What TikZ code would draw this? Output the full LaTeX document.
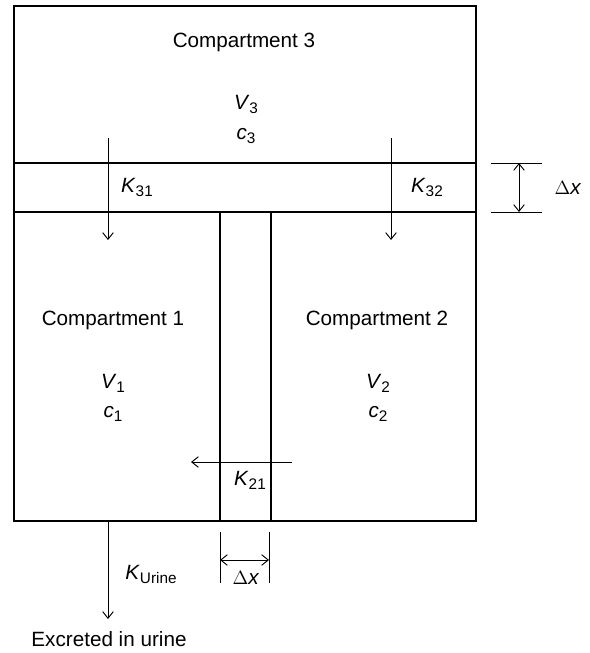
\documentclass[tikz,border=0pt]{standalone}
\usepackage{fontspec}
\setmainfont{Liberation Sans}
\usetikzlibrary{arrows.meta}
\newcommand\vsub[2]{\textit{#1}\raisebox{-3pt}{\fontsize{11.5}{12}\selectfont #2}}
\begin{document}
\begin{tikzpicture}[x=0.75pt,y=-0.75pt, line width=0.95pt,
  lbl/.style={font=\fontsize{15.5}{18}\selectfont, inner sep=0pt},
  arr/.style={-{Straight Barb[length=5pt,width=8pt]}, line width=0.7pt},
  dim/.style={{Straight Barb[length=5pt,width=8pt]}-{Straight Barb[length=5pt,width=8pt]}, line width=0.7pt},
  thin/.style={line width=0.7pt}]
\useasboundingbox (0,0) rectangle (589,653);
% outer box and partitions
\coordinate (tl) at (14,6);
\coordinate (br) at (476,521);
\draw (tl) rectangle (br);
\coordinate (b1l) at (14,163); \coordinate (b1r) at (476,163);
\coordinate (b2l) at (14,212); \coordinate (b2r) at (476,212);
\draw (b1l) -- (b1r);
\draw (b2l) -- (b2r);
\coordinate (ch1t) at (220,212); \coordinate (ch1b) at (220,521);
\coordinate (ch2t) at (271,212); \coordinate (ch2b) at (271,521);
\draw (ch1t) -- (ch1b);
\draw (ch2t) -- (ch2b);
% flux arrows
\coordinate (k31s) at (108,138); \coordinate (k31e) at (108,240);
\coordinate (k32s) at (391,138); \coordinate (k32e) at (391,240);
\coordinate (k21s) at (292,462); \coordinate (k21e) at (191,462);
\coordinate (kus) at (108,521); \coordinate (kue) at (108,619);
\draw[arr] (k31s) -- (k31e);
\draw[arr] (k32s) -- (k32e);
\draw[arr] (k21s) -- (k21e);
\draw[arr] (kus) -- (kue);
% right dimension
\coordinate (d1a) at (491,163); \coordinate (d1b) at (542,163);
\coordinate (d2a) at (491,212); \coordinate (d2b) at (542,212);
\draw[thin] (d1a) -- (d1b);
\draw[thin] (d2a) -- (d2b);
\coordinate (da) at (519,163); \coordinate (db) at (519,212);
\draw[dim] (da) -- (db);
% bottom dimension
\coordinate (e1a) at (220,532); \coordinate (e1b) at (220,583);
\coordinate (e2a) at (269,532); \coordinate (e2b) at (269,583);
\draw[thin] (e1a) -- (e1b);
\draw[thin] (e2a) -- (e2b);
\coordinate (ea) at (220,560); \coordinate (eb) at (269,560);
\draw[dim] (ea) -- (eb);
% labels
\node[lbl] (c3t) at (244,42) {Compartment 3};
\node[lbl] (v3) at (246,104) {\vsub{V}{3}};
\node[lbl] (cc3) at (246,136) {\vsub{c}{3}};
\node[lbl] (k31) at (137,187) {\vsub{K}{31}};
\node[lbl] (k32) at (427,187) {\vsub{K}{32}};
\node[lbl] (c1t) at (113,320) {Compartment 1};
\node[lbl] (c2t) at (377,320) {Compartment 2};
\node[lbl] (v1) at (113,383) {\vsub{V}{1}};
\node[lbl] (cc1) at (113,414) {\vsub{c}{1}};
\node[lbl] (v2) at (378,383) {\vsub{V}{2}};
\node[lbl] (cc2) at (378,414) {\vsub{c}{2}};
\node[lbl] (k21) at (250,480) {\vsub{K}{21}};
\node[lbl] (ku) at (151,574) {\vsub{K}{Urine}};
\node[lbl] (dx1) at (568,188) {$\Delta$\textit{x}};
\node[lbl] (dx2) at (246,578) {$\Delta$\textit{x}};
\node[lbl] (exc) at (109,639) {Excreted in urine};
\end{tikzpicture}
\end{document}
